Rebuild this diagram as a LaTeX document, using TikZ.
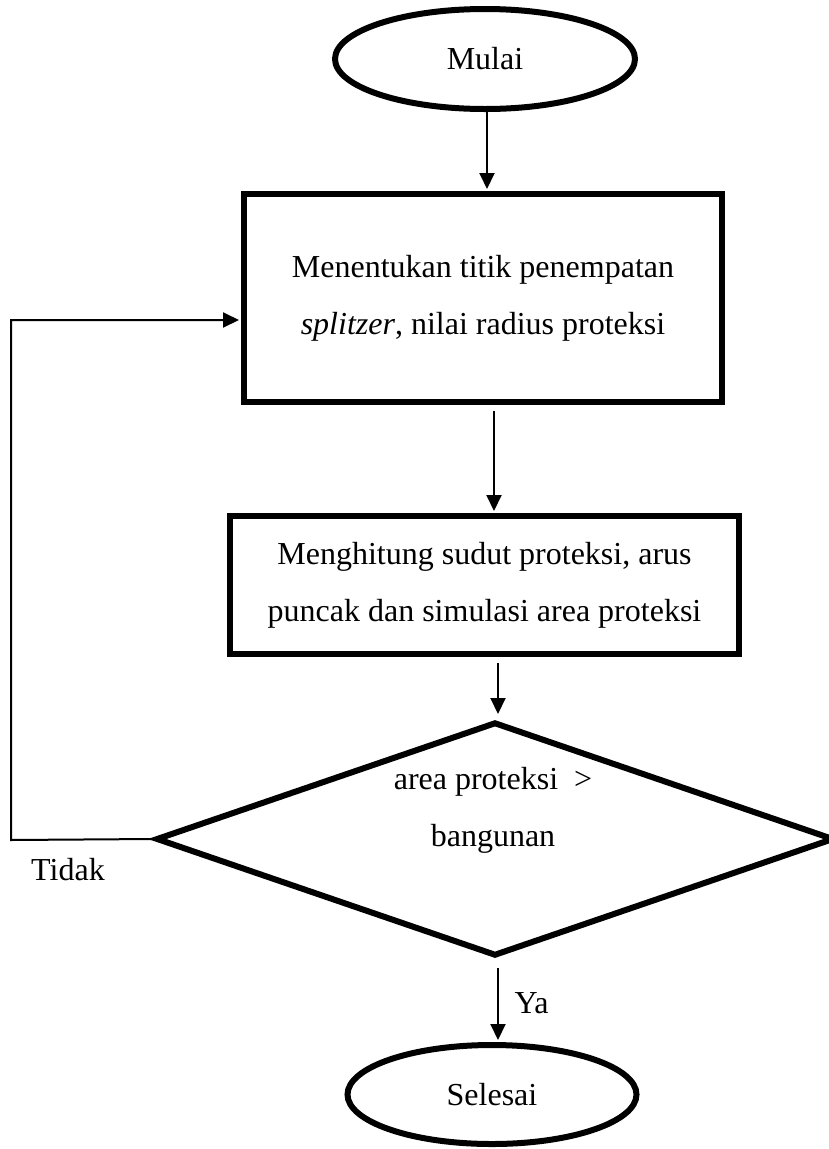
\documentclass[tikz,border=0pt]{standalone}
\usepackage{fontspec}
\setmainfont{Liberation Serif}
\usetikzlibrary{shapes.geometric,arrows.meta}
\begin{document}
\begin{tikzpicture}[x=1pt,y=-1pt,
  txt/.style={font=\fontsize{32}{57}\selectfont},
  box/.style={draw,line width=6pt,align=center,inner sep=0pt,txt},
  oval/.style={ellipse,draw,line width=6pt,inner sep=0pt,txt},
  decision/.style={diamond,aspect=2.9,draw,line width=6pt,inner sep=0pt},
  conn/.style={line width=2pt,-{Triangle[length=16pt,width=15pt]}},
  link/.style={line width=2pt}]
\useasboundingbox (0,0) rectangle (829,1149);
\clip (0,0) rectangle (829,1149);
\node[oval,minimum width=300pt,minimum height=100pt] (start) at (485,59) {Mulai};
\node[box,minimum width=478pt,minimum height=208pt] (s1) at (483,298)
  {Menentukan titik penempatan\\\textit{splitzer}, nilai radius proteksi};
\node[box,minimum width=509pt,minimum height=138pt] (s2) at (484.5,585)
  {Menghitung sudut proteksi, arus\\puncak dan simulasi area proteksi};
\node[decision,minimum width=678pt,minimum height=234pt] (dec) at (495,839) {};
\node[txt,align=center] (dectext) at (493,810) {area proteksi\ \ >\\bangunan};
\node[oval,minimum width=289pt,minimum height=99pt] (end) at (492,1094.5) {Selesai};
\node[txt] (tidak) at (68,870) {Tidak};
\node[txt,anchor=west] (ya) at (511,1003) {Ya};
\coordinate (a1) at (487,0);
\coordinate (a2) at (494,0);
\coordinate (a3) at (498,0);
\coordinate (a4) at (498,0);
\coordinate (lb) at (11,840);
\coordinate (lt) at (11,320);
\draw[conn,shorten >=2pt] (start.south -| a1) -- (s1.north -| a1);
\draw[conn,shorten >=2pt] ([yshift=-6pt]s1.south -| a2) -- (s2.north -| a2);
\draw[conn,shorten >=5pt] ([yshift=-6pt]s2.south -| a3) -- (dec.north -| a3);
\draw[conn,shorten >=2pt] ([yshift=-9pt]dec.south -| a4) -- (end.north -| a4);
\draw[conn,shorten >=2pt] (dec.west) -- (lb) -- (lt) -- (lt -| s1.west);
\end{tikzpicture}
\end{document}
